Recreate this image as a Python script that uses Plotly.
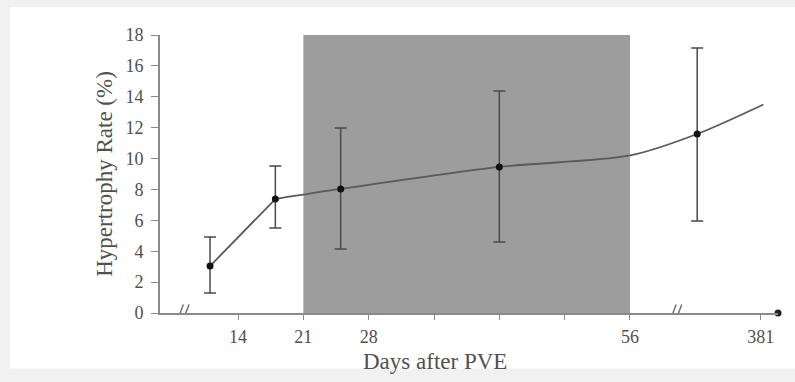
import plotly.graph_objects as go

# Measured hypertrophy rate (%) at each follow-up, with asymmetric SD bars.
# x is the position on the broken "days after PVE" axis; the last point
# and the 381-day tick sit beyond the axis break.
point_x = [11, 18, 25, 42, 63.2]
rate = [3.04, 7.38, 8.03, 9.46, 11.59]
err_hi = [4.92, 9.52, 11.98, 14.38, 17.16]
err_lo = [1.30, 5.51, 4.15, 4.60, 5.96]

# Fitted trend: straight rise to day 18, then a smooth curve.
trend_lin_x = [11, 18]
trend_lin_y = [3.04, 7.38]
trend_x = [18, 25, 42, 56, 63.2, 70.3]
trend_y = [7.38, 8.03, 9.46, 10.2, 11.59, 13.5]

tick_vals = [14, 21, 28, 35, 42, 49, 56, 70]
tick_text = ["14", "21", "28", "", "", "", "56", "381"]

shade_start, shade_end = 21, 56
break_marks = [8.1, 60.9]
x_lo, x_hi = 5.64, 71.86

SERIF = "Liberation Serif, Times New Roman, serif"
INK = "#505050"
AXIS = "#8a8a8a"

fig = go.Figure()

fig.add_trace(go.Scatter(
    x=trend_lin_x, y=trend_lin_y, mode="lines",
    line=dict(color="#5a5a5a", width=1.8), hoverinfo="skip", showlegend=False,
))
fig.add_trace(go.Scatter(
    x=trend_x, y=trend_y, mode="lines",
    line=dict(color="#5a5a5a", width=1.8, shape="spline", smoothing=0.8),
    hoverinfo="skip", showlegend=False, cliponaxis=False,
))
fig.add_trace(go.Scatter(
    x=point_x, y=rate, mode="markers",
    marker=dict(color="#111111", size=7),
    error_y=dict(
        type="data", symmetric=False,
        array=[h - r for h, r in zip(err_hi, rate)],
        arrayminus=[r - l for r, l in zip(rate, err_lo)],
        color="#4a4a4a", thickness=1.5, width=6,
    ),
    showlegend=False,
))
# Arrow-head dot closing the x axis
fig.add_trace(go.Scatter(
    x=[x_hi], y=[0], mode="markers", marker=dict(color="#222222", size=7),
    cliponaxis=False, hoverinfo="skip", showlegend=False,
))

shapes = [
    # soft scan frame
    dict(type="rect", xref="paper", yref="paper", x0=-0.243, x1=1.05, y0=-0.20, y1=1.10,
         fillcolor="white", line=dict(width=0), layer="below"),
    # shaded period
    dict(type="rect", xref="x", yref="y", x0=shade_start, x1=shade_end, y0=0, y1=18,
         fillcolor="#9d9d9d", line=dict(width=0), layer="below"),
]
for bx in break_marks:
    for off in (-0.3, 0.3):
        shapes.append(dict(type="line", xref="x", yref="y",
                           x0=bx + off - 0.35, x1=bx + off + 0.35, y0=-0.55, y1=0.55,
                           line=dict(color="#6a6a6a", width=1.4)))

fig.update_layout(
    width=795, height=382,
    margin=dict(l=160, r=17, t=35, b=69),
    paper_bgcolor="#f1f1f1", plot_bgcolor="rgba(0,0,0,0)",
    font=dict(family=SERIF, color=INK, size=18),
    shapes=shapes,
    xaxis=dict(
        range=[x_lo, x_hi], showgrid=False, zeroline=False,
        showline=True, linecolor=AXIS, linewidth=1.8,
        tickmode="array", tickvals=tick_vals, ticktext=tick_text,
        ticks="outside", ticklen=5, tickcolor=AXIS, tickwidth=1.4,
        ticklabelstandoff=1,
        tickfont=dict(family=SERIF, size=18, color=INK),
    ),
    yaxis=dict(
        range=[0, 18], showgrid=False, zeroline=False,
        showline=True, linecolor=AXIS, linewidth=1.8,
        tickmode="array", tickvals=list(range(0, 19, 2)),
        ticks="outside", ticklen=7, tickcolor=AXIS, tickwidth=1.4,
        ticklabelstandoff=4,
        tickfont=dict(family=SERIF, size=18, color=INK),
        title=dict(text="Hypertrophy Rate (%)", font=dict(family=SERIF, size=23, color=INK), standoff=6),
    ),
    annotations=[
        dict(text="Days after PVE", xref="paper", yref="paper", x=0.445, y=-0.176,
             xanchor="center", yanchor="middle", showarrow=False,
             font=dict(family=SERIF, size=23, color=INK)),
    ],
)

fig.write_html("out.html")
